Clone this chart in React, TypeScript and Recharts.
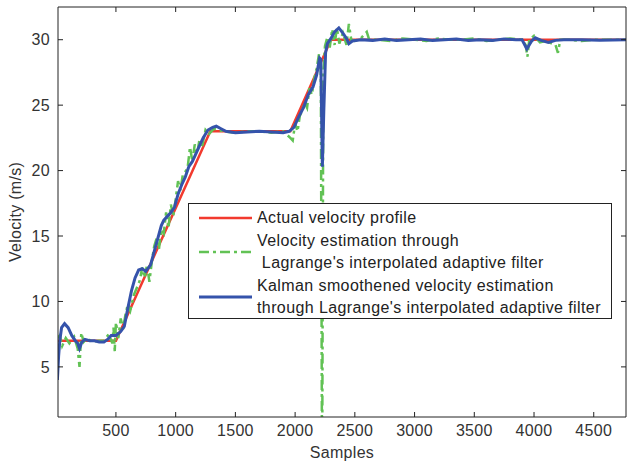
import { LineChart, Line, XAxis, YAxis, Legend } from "recharts";

// actual velocity profile (piecewise)
const actualSamples = [10, 500, 1290, 1960, 2300, 4770];
const actualVelocity = [7.0, 7.0, 23.0, 23.0, 30.0, 30.0];

// Lagrange interpolated adaptive filter estimate (noisy)
const lagrangeSamples = [
  10, 30, 50, 80, 110, 150, 180, 195, 210, 230, 260, 300, 350, 400, 440, 470, 480, 490, 500, 520,
  540, 560, 580, 600, 620, 650, 700, 720, 740, 760, 780, 800, 820, 840, 860, 880, 900, 920, 940, 960,
  980, 1000, 1020, 1040, 1060, 1080, 1100, 1120, 1140, 1160, 1180, 1200, 1220, 1250, 1280, 1320, 1400, 1500, 1600, 1700,
  1800, 1900, 1960, 1980, 2000, 2020, 2040, 2060, 2080, 2100, 2120, 2140, 2160, 2180, 2200, 2215, 2226, 2236, 2250, 2270,
  2290, 2310, 2330, 2350, 2370, 2400, 2430, 2450, 2470, 2500, 2550, 2600, 2620, 2700, 2800, 2900, 3000, 3100, 3200, 3300,
  3400, 3500, 3600, 3700, 3800, 3900, 3930, 3945, 3960, 4000, 4050, 4100, 4180, 4200, 4220, 4300, 4400, 4500, 4600, 4770,
];
const lagrangeVelocity = [
  7.2, 7.4, 6.6, 7.2, 6.8, 7.3, 6.4, 5.0, 7.6, 6.9, 7.2, 6.9, 7.0, 7.0, 7.5, 6.8, 8.0, 6.2, 8.4, 7.2,
  8.7, 7.9, 9.0, 9.8, 9.3, 10.5, 11.6, 12.6, 11.8, 12.8, 11.5, 13.0, 14.2, 14.8, 14.0, 15.5, 15.2, 16.8, 15.6, 17.4,
  16.5, 17.8, 19.2, 18.5, 19.7, 19.9, 20.2, 21.8, 20.7, 22.0, 21.3, 22.4, 21.8, 23.1, 22.8, 23.2, 23.0, 22.9, 23.0, 23.0,
  22.9, 23.0, 22.5, 22.3, 23.6, 23.0, 24.2, 24.6, 25.2, 24.8, 26.3, 25.8, 27.0, 27.8, 28.9, 28.0, -5.0, 27.5, 29.5, 30.2,
  29.4, 30.8, 29.6, 30.9, 29.7, 30.5, 29.6, 31.2, 30.0, 29.9, 30.1, 30.6, 30.0, 30.0, 29.9, 30.1, 30.0, 29.9, 30.1, 30.0,
  30.0, 30.1, 29.9, 30.0, 30.1, 30.0, 29.6, 28.7, 30.0, 30.3, 29.8, 29.9, 29.6, 29.0, 30.0, 30.0, 29.9, 30.0, 30.0, 30.0,
];

// Kalman smoothened estimate
const kalmanSamples = [
  10, 20, 30, 45, 70, 100, 130, 160, 180, 195, 215, 240, 280, 320, 360, 400, 430, 460, 500, 540,
  570, 600, 630, 660, 690, 720, 750, 790, 820, 850, 880, 900, 930, 960, 990, 1020, 1050, 1080, 1110, 1140,
  1170, 1200, 1230, 1270, 1310, 1340, 1380, 1420, 1500, 1600, 1700, 1800, 1900, 1950, 1990, 2030, 2070, 2110, 2150, 2180,
  2205, 2215, 2228, 2240, 2255, 2270, 2300, 2330, 2366, 2400, 2430, 2450, 2480, 2550, 2650, 2750, 2850, 2950, 3050, 3150,
  3250, 3350, 3450, 3550, 3650, 3750, 3850, 3900, 3940, 3980, 4010, 4060, 4120, 4180, 4250, 4400, 4550, 4770,
];
const kalmanVelocity = [
  4.0, 5.8, 7.0, 8.0, 8.3, 8.0, 7.4, 7.0, 6.8, 6.4, 6.9, 7.1, 7.0, 7.0, 6.9, 6.9, 7.1, 7.4, 7.4, 7.7,
  8.1, 9.5, 10.8, 11.8, 12.4, 12.5, 12.3, 12.8, 13.8, 14.8, 15.8, 16.2, 16.5, 16.8, 17.2, 18.2, 18.9, 19.5, 20.3, 20.7,
  21.3, 21.9, 22.5, 23.1, 23.3, 23.4, 23.2, 23.0, 22.9, 22.95, 23.0, 22.95, 22.9, 23.0, 23.3, 24.1, 24.8, 25.8, 26.4, 27.3,
  28.6, 28.5, 20.3, 24.5, 29.0, 29.7, 30.1, 30.6, 30.9, 30.5, 30.1, 29.7, 29.9, 30.0, 29.95, 30.05, 29.95, 30.0, 30.05, 29.95,
  30.0, 30.05, 29.95, 30.0, 29.95, 30.05, 30.0, 30.0, 29.3, 29.9, 30.15, 29.95, 29.8, 29.95, 30.0, 30.0, 29.95, 30.0,
];

const xTicks = [500, 1000, 1500, 2000, 2500, 3000, 3500, 4000, 4500];
const yTicks = [5, 10, 15, 20, 25, 30];

const actualData = actualSamples.map((s, i) => ({ s, v: actualVelocity[i] }));
const lagrangeData = lagrangeSamples.map((s, i) => ({ s, v: lagrangeVelocity[i] }));
const kalmanData = kalmanSamples.map((s, i) => ({ s, v: kalmanVelocity[i] }));

const FONT = "'Liberation Sans', Arial, sans-serif";
const RED = "#f23a2e";
const GREEN = "#62c255";
const BLUE = "#3553ab";

const tickStyle = { fill: "#333", fontSize: 16, fontFamily: FONT, letterSpacing: 0.3 };

const legendItems = [
  { color: RED, dash: undefined, width: 2.5, lines: ["Actual velocity profile"] },
  { color: GREEN, dash: "10 4 3 4", width: 2.5, lines: ["Velocity estimation through", " Lagrange's interpolated adaptive filter"] },
  { color: BLUE, dash: undefined, width: 3, lines: ["Kalman smoothened velocity estimation", "through Lagrange's interpolated adaptive filter"] },
];

function LegendBox() {
  return (
    <div
      style={{
        boxSizing: "border-box",
        width: 424,
        height: 116,
        background: "#fff",
        border: "1.5px solid #222",
        fontFamily: FONT,
        fontSize: 16,
        letterSpacing: 0.4,
        color: "#222",
        padding: "3px 0 0 0",
      }}
    >
      {legendItems.map((it) => (
        <div key={it.lines[0]} style={{ display: "flex", alignItems: "center", marginBottom: 1 }}>
          <svg width={68} height={20} style={{ flex: "none" }}>
            <line x1={10} x2={63} y1={10} y2={10} stroke={it.color} strokeWidth={it.width} strokeDasharray={it.dash} />
          </svg>
          <div style={{ lineHeight: "22px", whiteSpace: "pre" }}>
            {it.lines.map((l) => (
              <div key={l}>{l}</div>
            ))}
          </div>
        </div>
      ))}
    </div>
  );
}

export default function App() {
  return (
    <div style={{ position: "absolute", left: 0, top: 0, background: "#fff" }}>
      <LineChart width={627} height={462} margin={{ top: 0, right: 0, left: 0, bottom: 0 }}>
        <XAxis
          xAxisId="b"
          dataKey="s"
          type="number"
          domain={[15, 4770]}
          allowDataOverflow
          ticks={xTicks}
          height={45}
          tickSize={-5}
          tickMargin={13}
          axisLine={{ stroke: "#222" }}
          tickLine={{ stroke: "#222" }}
          tick={tickStyle}
          label={{ value: "Samples", position: "insideBottom", offset: 4, fill: "#333", fontSize: 16, fontFamily: FONT, letterSpacing: 0.3 }}
        />
        <XAxis
          xAxisId="t"
          dataKey="s"
          type="number"
          orientation="top"
          domain={[15, 4770]}
          allowDataOverflow
          ticks={xTicks}
          height={7}
          tickSize={-5}
          axisLine={{ stroke: "#222" }}
          tickLine={{ stroke: "#222" }}
          tickFormatter={() => ""}
        />
        <YAxis
          yAxisId="l"
          type="number"
          domain={[1.17, 32.5]}
          allowDataOverflow
          ticks={yTicks}
          width={58}
          tickSize={-5}
          tickMargin={13}
          axisLine={{ stroke: "#222" }}
          tickLine={{ stroke: "#222" }}
          tick={tickStyle}
          label={{ value: "Velocity (m/s)", angle: -90, position: "insideLeft", offset: 15, style: { textAnchor: "middle" }, fill: "#333", fontSize: 16, fontFamily: FONT, letterSpacing: 0.3 }}
        />
        <YAxis
          yAxisId="r"
          orientation="right"
          type="number"
          domain={[1.17, 32.5]}
          allowDataOverflow
          ticks={yTicks}
          width={1}
          tickSize={-5}
          axisLine={{ stroke: "#222" }}
          tickLine={{ stroke: "#222" }}
          tickFormatter={() => ""}
        />
        <Line xAxisId="b" yAxisId="l" data={actualData} dataKey="v" type="linear" stroke={RED} strokeWidth={2.5} dot={false} isAnimationActive={false} />
        <Line xAxisId="b" yAxisId="l" data={lagrangeData} dataKey="v" type="linear" stroke={GREEN} strokeWidth={2.5} strokeDasharray="10 4 3 4" dot={false} isAnimationActive={false} />
        <Line xAxisId="b" yAxisId="l" data={kalmanData} dataKey="v" type="linear" stroke={BLUE} strokeWidth={3} dot={false} isAnimationActive={false} />
        <Legend
          layout="horizontal"
          verticalAlign="middle"
          align="center"
          content={() => <LegendBox />}
          wrapperStyle={{ left: 188, top: 203, width: 424, height: 116 }}
        />
      </LineChart>
    </div>
  );
}
